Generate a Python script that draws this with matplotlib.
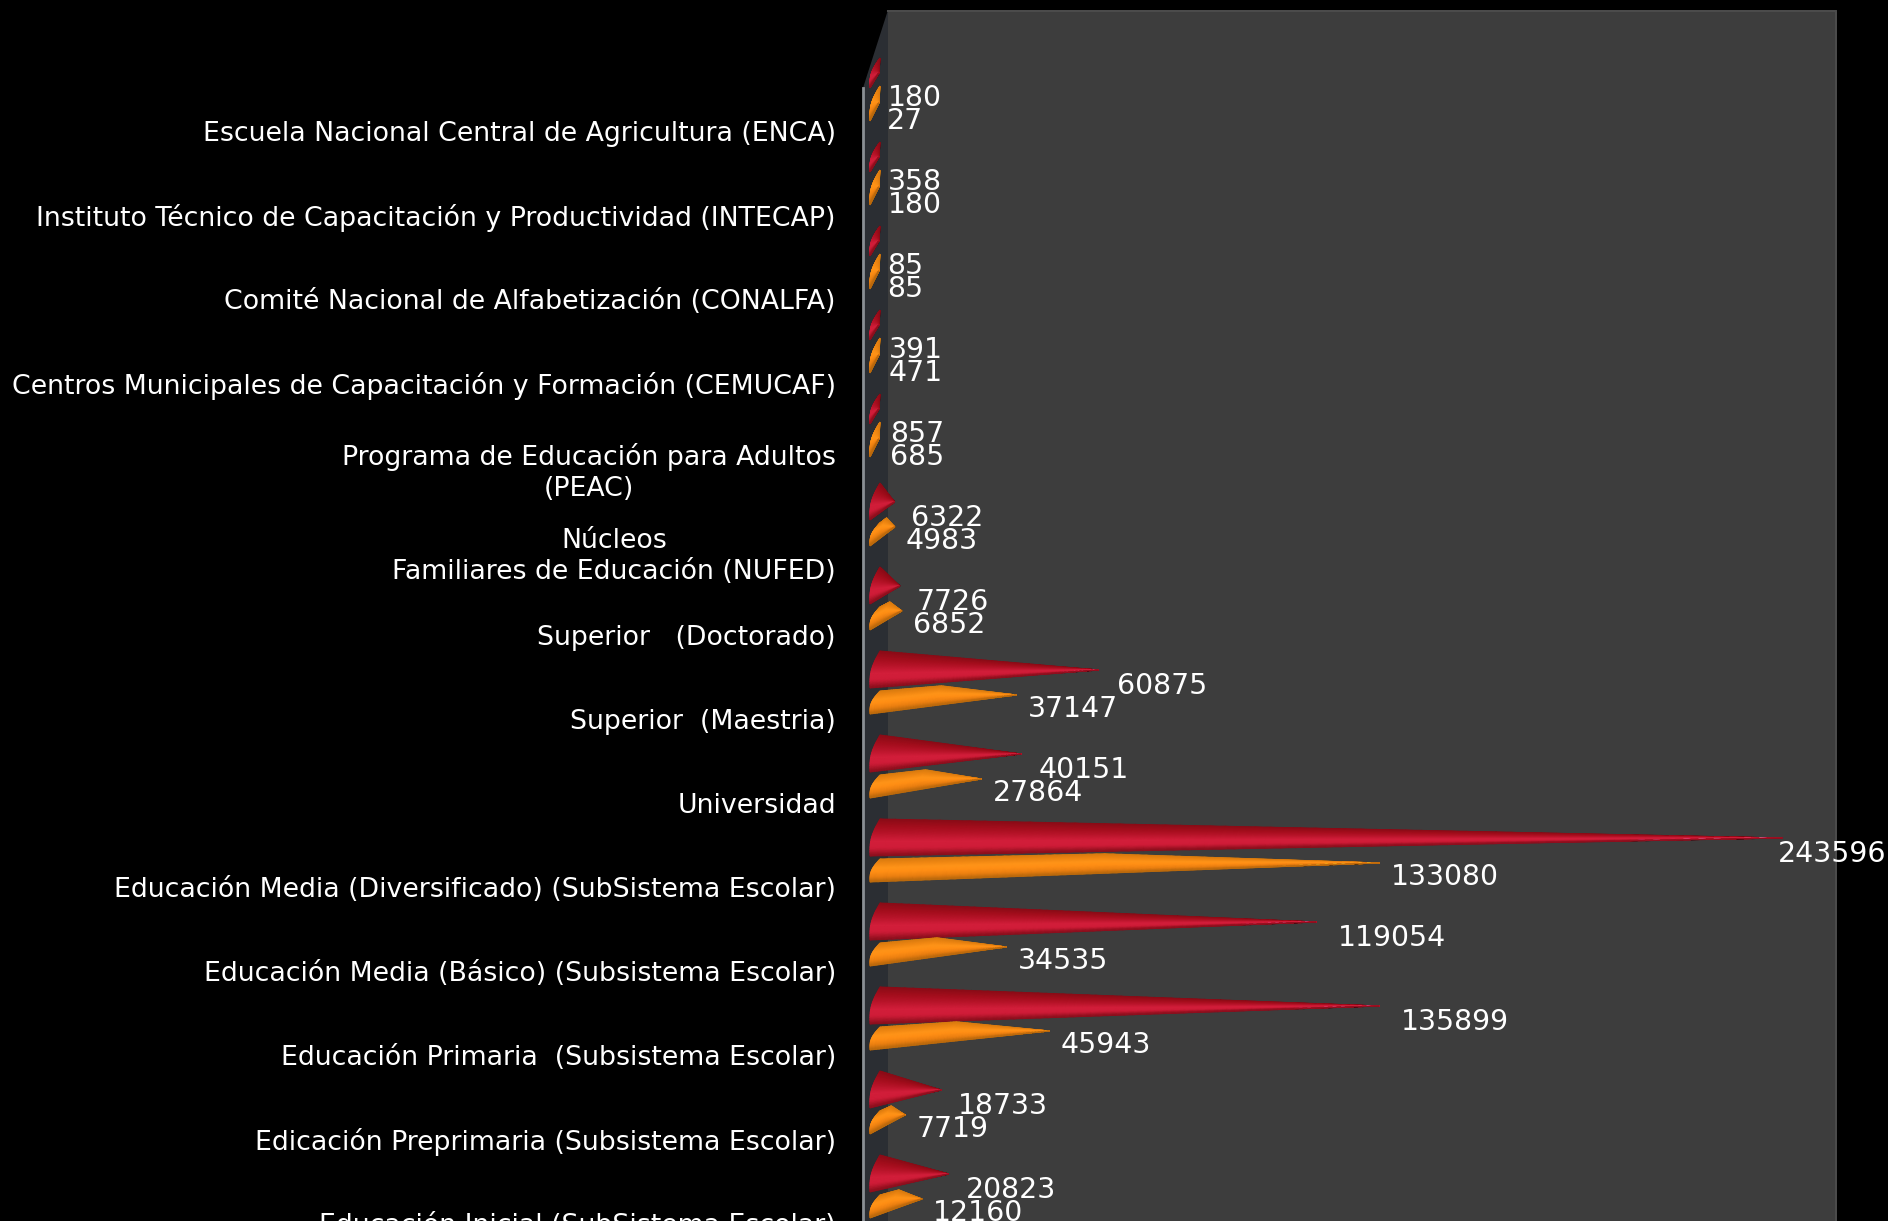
import numpy as np
import matplotlib
matplotlib.use('Agg')
import matplotlib.pyplot as plt
from matplotlib.colors import LinearSegmentedColormap

categories = ['Escuela Nacional Central de Agricultura (ENCA)',
              'Instituto Técnico de Capacitación y Productividad (INTECAP)',
              'Comité Nacional de Alfabetización (CONALFA)',
              'Centros Municipales de Capacitación y Formación (CEMUCAF)',
              'Programa de Educación para Adultos\n(PEAC)',
              'Núcleos\nFamiliares de Educación (NUFED)',
              'Superior   (Doctorado)',
              'Superior  (Maestria)',
              'Universidad',
              'Educación Media (Diversificado) (SubSistema Escolar)',
              'Educación Media (Básico) (Subsistema Escolar)',
              'Educación Primaria  (Subsistema Escolar)',
              'Edicación Preprimaria (Subsistema Escolar)',
              'Educación Inicial (SubSistema Escolar)']
red_values = [180, 358, 85, 391, 857, 6322, 7726, 60875, 40151, 243596, 119054, 135899, 18733, 20823]
orange_values = [27, 180, 85, 471, 685, 4983, 6852, 37147, 27864, 133080, 34535, 45943, 7719, 12160]

W, H = 1888, 1221
X0 = 870            # pixel of value 0
PX_PER_UNIT = 3.74 / 1000
ROW_PX = 84.0
ROW0_PX = 131.0     # pixel of first category label
AX_BOTTOM = 1250    # axes run past the picture so the last row label is kept and gets cut by the edge

def dx(px):
    return px / PX_PER_UNIT

def dy(px):
    return px / ROW_PX

def wall_x(px):
    return dx(px - X0)

def wall_y(px):
    return dy(px - ROW0_PX)

red_cmap = LinearSegmentedColormap.from_list('red', ['#8a0b16', '#a30d1c', '#b8142a', '#d21e3a', '#cf1c38', '#8a0e1c'])
orange_cmap = LinearSegmentedColormap.from_list('orange', ['#d87a0e', '#ee8612', '#ff9418', '#ff8e14', '#ec8010', '#b8680c'])

def cone(ax, tip_value, row, top_px, bot_px, tip_px, cmap, hump_px=0):
    # cone as a small mesh, u along the length and w across the base
    u = np.linspace(0, 1, 61)
    w = np.linspace(0, 1, 24)
    U, V = np.meshgrid(u, w)
    base_x = dx(10) * (1 - V) - dx(3.5) * np.sin(np.pi * V)
    tip_x = max(tip_value + dx(1), dx(9))
    X = base_x + (tip_x - base_x) * U
    tent = np.minimum(U / 0.45, (1 - U) / 0.55)
    y_top = top_px + (tip_px - top_px) * U - hump_px * tent
    y_bot = bot_px + (tip_px - bot_px) * U
    Y_px = y_top + (y_bot - y_top) * V
    ax.pcolormesh(X, row + dy(Y_px), V, cmap=cmap, vmin=0, vmax=1, shading='gouraud', zorder=3)

fig = plt.figure(figsize=(W / 100, H / 100), dpi=100, facecolor='black')
ax = fig.add_axes([862 / W, (H - AX_BOTTOM) / H, (1837 - 862) / W, (AX_BOTTOM - 10) / H])
ax.set_facecolor('black')

rows = np.arange(len(categories))
ax.set_yticks(rows)
ax.set_yticklabels(categories, color='white', fontsize=19.26, multialignment='center', linespacing=1.25)
ax.tick_params(axis='y', length=0, pad=26 * 0.72)
ax.set_xticks([])
for s in ax.spines.values():
    s.set_visible(False)

ax.set_xlim(wall_x(862), wall_x(1837))
ax.set_ylim(wall_y(AX_BOTTOM), wall_y(10))

# back wall and side wall
ax.fill([wall_x(888), wall_x(1837), wall_x(1837), wall_x(888)],
        [wall_y(10), wall_y(10), wall_y(AX_BOTTOM), wall_y(AX_BOTTOM)], color='#3d3d3d', lw=0, zorder=1)
ax.fill([wall_x(863), wall_x(888), wall_x(888), wall_x(863)],
        [wall_y(88), wall_y(10), wall_y(AX_BOTTOM), wall_y(AX_BOTTOM)], color='#2b2e33', lw=0, zorder=1)
ax.plot([wall_x(888), wall_x(1836), wall_x(1836)], [wall_y(11), wall_y(11), wall_y(AX_BOTTOM)],
        color='#4b4b4b', lw=1.5, zorder=2)
ax.plot([wall_x(863), wall_x(863)], [wall_y(88), wall_y(AX_BOTTOM)], color='#8a8f94', lw=2, zorder=2)

for i in rows:
    red, orange = red_values[i], orange_values[i]
    if red < 2000:
        # only the tilted base shows for the tiny values
        cone(ax, red, i, -73, -43, -58, red_cmap)
    else:
        cone(ax, red, i, -68, -31, -49, red_cmap)
    orange_tip = orange * 1.012 + dx(5)
    if orange < 2000:
        cone(ax, orange, i, -45, -10, -28, orange_cmap)
    else:
        cone(ax, orange_tip, i, -28, -5, -24, orange_cmap, hump_px=7)

    # value labels start a little right of the tip, the biggest one stops at the edge
    for value, off in ((red, -33), (orange, -10)):
        x = value * 1.012 + dx(17)
        if X0 + x * PX_PER_UNIT + 110 > W:
            ax.text(wall_x(1886), i + dy(off), str(value), color='white', fontsize=20.4,
                    ha='right', va='center', clip_on=False, zorder=5)
        else:
            ax.text(x, i + dy(off), str(value), color='white', fontsize=20.4,
                    ha='left', va='center', clip_on=False, zorder=5)

fig.savefig('out.png', dpi=100, facecolor='black')
